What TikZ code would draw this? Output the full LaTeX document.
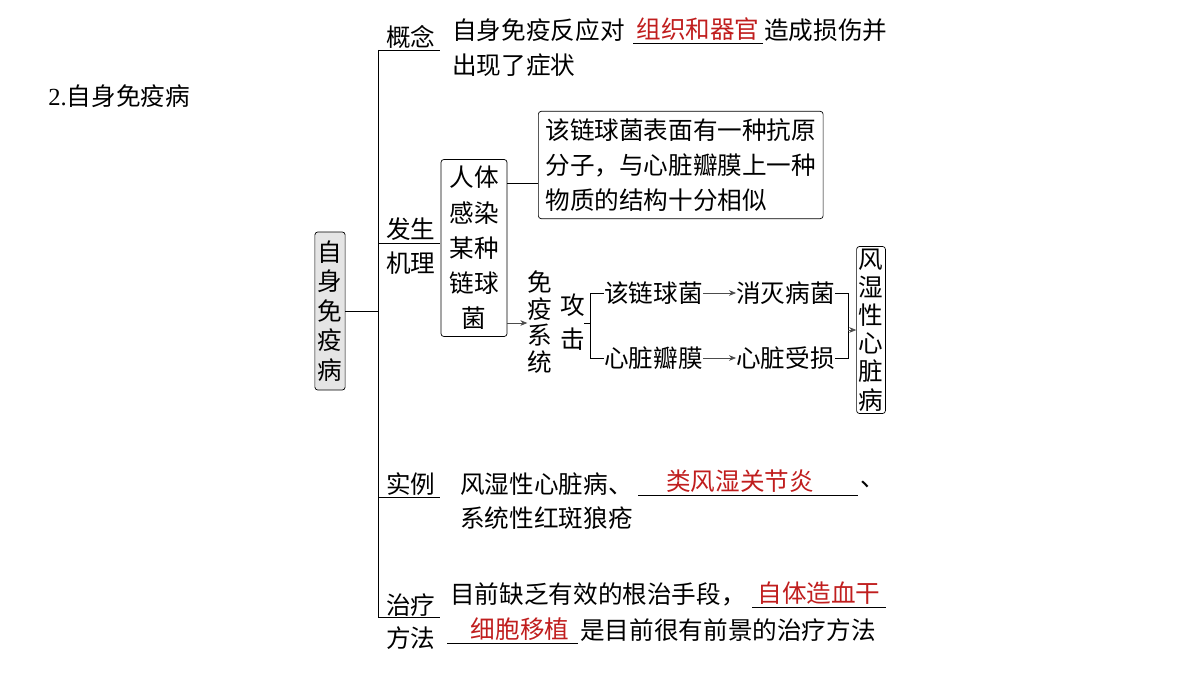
\documentclass[tikz,border=0pt]{standalone}
\usepackage{fontspec}
\setmainfont{Liberation Serif}
\newfontfamily\cjk{Noto Sans CJK SC}
\usetikzlibrary{positioning,arrows.meta}
\definecolor{ansred}{RGB}{192,30,30}
\tikzset{
  txt/.style={inner sep=0pt,anchor=west,font=\cjk\fontsize{17.5pt}{21pt}\selectfont},
  ans/.style={inner sep=0pt,font=\cjk\fontsize{17.5pt}{21pt}\selectfont,text=ansred},
  vbox/.style={draw,rounded corners=2pt,inner sep=3pt,align=center,font=\cjk\fontsize{17.5pt}{25pt}\selectfont},
  arr/.style={-{Stealth[length=5pt,width=4pt]},gray!60!black}
}
\begin{document}
\begin{tikzpicture}[x=0.025cm,y=-0.025cm,line width=0.5pt]
	\useasboundingbox (0,0) rectangle (1200,675);
	\node[txt] (title) at (48,96) {\rmfamily 2.\cjk 自身免疫病};
	% root and trunk
	\node[vbox,fill=gray!20,inner sep=2pt,minimum height=158*0.025cm,font=\cjk\fontsize{17.5pt}{21pt}\selectfont] (root) at (330,311) {自\\身\\免\\疫\\病};
	\coordinate (tj) at (378,311);
	\coordinate (ttop) at (378,50);
	\coordinate (tbot) at (378,617);
	\draw (root.east) -- (tj);
	\draw (ttop) -- (tbot);
	% concept
	\coordinate (b1) at (440,50);
	\draw (ttop) -- (b1);
	\node[txt] (l1) at (386,37) {概念};
	\node[txt] (c1) at (452,30) {自身免疫反应对};
	\draw (633,43) -- (763,43);
	\node[ans] (a1) at (698,29) {组织和器官};
	\node[txt] (c2) at (764,30) {造成损伤并};
	\node[txt] (c3) at (452,65) {出现了症状};
	% mechanism
	\coordinate (b2) at (440,243);
	\draw (378,243) -- (b2);
	\node[txt] (l2a) at (386,229) {发生};
	\node[txt] (l2b) at (386,263) {机理};
	\node[vbox,minimum height=177*0.025cm,minimum width=66*0.025cm] (inf) at (474,248) {人体\\感染\\某种\\链球\\菌};
	\node[vbox,align=left,anchor=west,inner sep=5pt] (anti) at (538,165) {该链球菌表面有一种抗原\\分子，与心脏瓣膜上一种\\物质的结构十分相似};
	\draw (inf.east |- 0,183) -- (anti.west |- 0,183);
	\node[vbox,draw=none,inner sep=0pt,font=\cjk\fontsize{17.5pt}{19pt}\selectfont] (imm) at (540,322) {免\\疫\\系\\统};
	\draw[arr] (inf.east |- 0,323) -- (imm.west |- 0,323);
	\node[vbox,draw=none,inner sep=0pt,font=\cjk\fontsize{17.5pt}{24pt}\selectfont] (atk) at (573,322) {攻\\击};
	\coordinate (s1) at (590,293);
	\coordinate (s2) at (590,358);
	\draw (584,323) -- (590,323);
	\draw (s1) -- (s2);
	\node[txt] (bac) at (604,293) {该链球菌};
	\node[txt] (kill) at (736,293) {消灭病菌};
	\node[txt] (valve) at (604,358) {心脏瓣膜};
	\node[txt] (dam) at (736,358) {心脏受损};
	\draw (s1) -- (bac.west);
	\draw (s2) -- (valve.west);
	\draw[arr] (bac.east) -- (kill.west);
	\draw[arr] (valve.east) -- (dam.west);
	\coordinate (r1) at (848,293);
	\coordinate (r2) at (848,358);
	\draw (kill.east) -- (r1) -- (r2) -- (dam.east);
	\node[vbox,minimum height=167*0.025cm,inner sep=1.5pt,font=\cjk\fontsize{17.5pt}{20pt}\selectfont] (rhd) at (871,330) {风\\湿\\性\\心\\脏\\病};
	\draw[arr] (848,330) -- (rhd.west);
	% examples
	\coordinate (b3) at (440,497);
	\draw (378,497) -- (b3);
	\node[txt] (l3) at (386,484) {实例};
	\node[txt] (e1) at (460,484) {风湿性心脏病、};
	\draw (638,495) -- (858,495);
	\node[ans] (a3) at (740,481) {类风湿关节炎};
	\node[txt] (e2) at (860,484) {、};
	\node[txt] (e3) at (460,518) {系统性红斑狼疮};
	% therapy
	\draw (378,617) -- (440,617);
	\node[txt] (l4a) at (386,605) {治疗};
	\node[txt] (l4b) at (386,638) {方法};
	\node[txt] (t1) at (450,594) {目前缺乏有效的根治手段，};
	\draw (752,607) -- (886,607);
	\node[ans] (a4a) at (819,593) {自体造血干};
	\draw (447,643) -- (578,643);
	\node[ans] (a4b) at (520,629) {细胞移植};
	\node[txt] (t2) at (580,630) {是目前很有前景的治疗方法};
\end{tikzpicture}
\end{document}
